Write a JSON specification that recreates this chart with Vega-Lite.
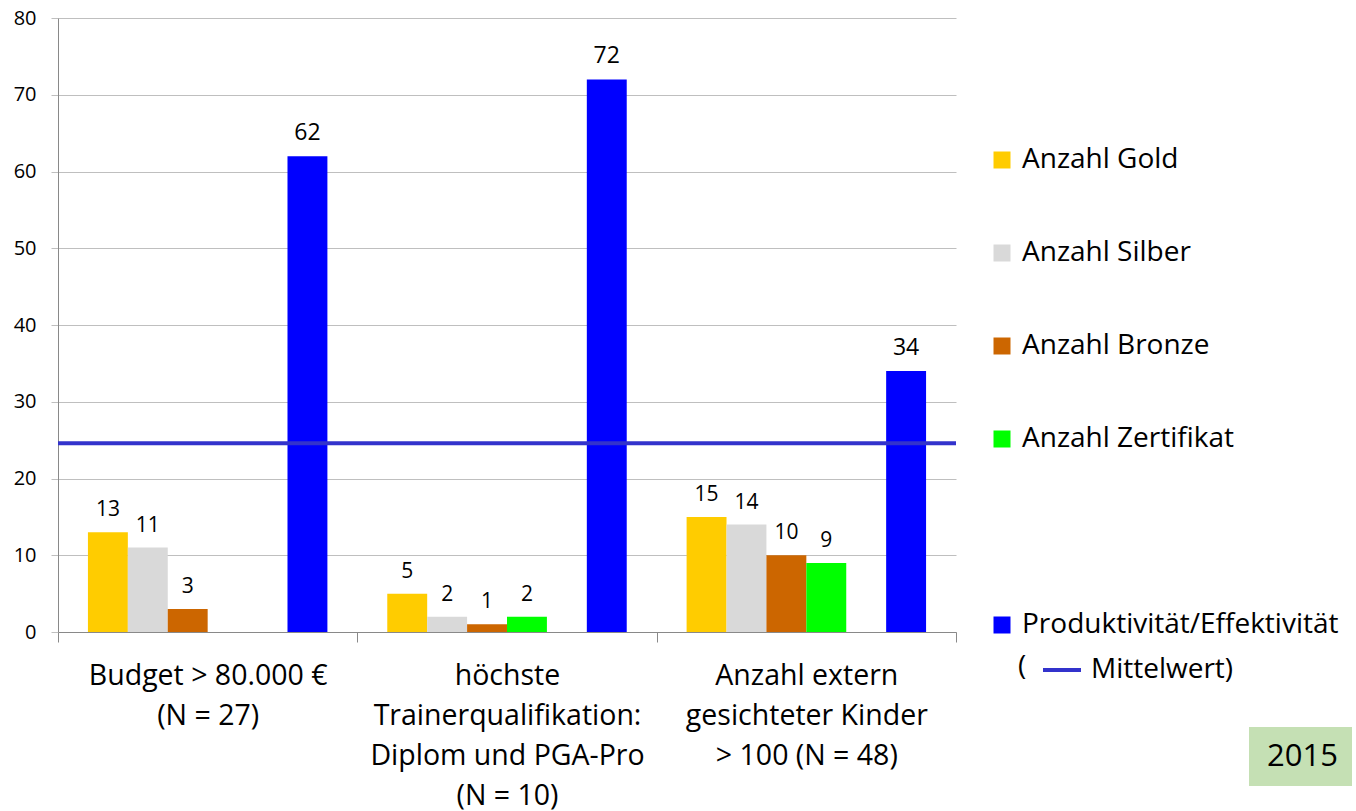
{
  "$schema": "https://vega.github.io/schema/vega-lite/v6.json",
  "width": 898,
  "height": 614,
  "autosize": {"type": "none"},
  "padding": {"left": 58, "top": 18, "right": 400, "bottom": 179},
  "background": "white",
  "config": {
    "font": "Open Sans",
    "view": {"stroke": null},
    "legend": {"labelColor": "black", "titleColor": "black"}
  },
  "layer": [
    {
      "data": {
        "values": [
          {"gruppe": "Budget > 80.000 €|(N = 27)", "serie": "Anzahl Gold", "wert": 13},
          {"gruppe": "Budget > 80.000 €|(N = 27)", "serie": "Anzahl Silber", "wert": 11},
          {"gruppe": "Budget > 80.000 €|(N = 27)", "serie": "Anzahl Bronze", "wert": 3},
          {"gruppe": "Budget > 80.000 €|(N = 27)", "serie": "Produktivität/Effektivität", "wert": 62},
          {"gruppe": "höchste|Trainerqualifikation:|Diplom und PGA-Pro|(N = 10)", "serie": "Anzahl Gold", "wert": 5},
          {"gruppe": "höchste|Trainerqualifikation:|Diplom und PGA-Pro|(N = 10)", "serie": "Anzahl Silber", "wert": 2},
          {"gruppe": "höchste|Trainerqualifikation:|Diplom und PGA-Pro|(N = 10)", "serie": "Anzahl Bronze", "wert": 1},
          {"gruppe": "höchste|Trainerqualifikation:|Diplom und PGA-Pro|(N = 10)", "serie": "Anzahl Zertifikat", "wert": 2},
          {"gruppe": "höchste|Trainerqualifikation:|Diplom und PGA-Pro|(N = 10)", "serie": "Produktivität/Effektivität", "wert": 72},
          {"gruppe": "Anzahl extern|gesichteter Kinder|> 100 (N = 48)", "serie": "Anzahl Gold", "wert": 15},
          {"gruppe": "Anzahl extern|gesichteter Kinder|> 100 (N = 48)", "serie": "Anzahl Silber", "wert": 14},
          {"gruppe": "Anzahl extern|gesichteter Kinder|> 100 (N = 48)", "serie": "Anzahl Bronze", "wert": 10},
          {"gruppe": "Anzahl extern|gesichteter Kinder|> 100 (N = 48)", "serie": "Anzahl Zertifikat", "wert": 9},
          {"gruppe": "Anzahl extern|gesichteter Kinder|> 100 (N = 48)", "serie": "Produktivität/Effektivität", "wert": 34}
        ]
      },
      "layer": [
        {
          "mark": {"type": "bar"},
          "encoding": {
            "x": {
              "field": "gruppe",
              "type": "nominal",
              "scale": {
                "domain": ["Budget > 80.000 €|(N = 27)", "höchste|Trainerqualifikation:|Diplom und PGA-Pro|(N = 10)", "Anzahl extern|gesichteter Kinder|> 100 (N = 48)"],
                "paddingInner": 0,
                "paddingOuter": 0
              },
              "axis": {
                "title": null,
                "labelAngle": 0,
                "labelExpr": "split(datum.label, '|')",
                "labelFontSize": 28.5,
                "labelLineHeight": 40,
                "labelColor": "black",
                "labelPadding": 19,
                "labelLimit": 400,
                "tickBand": "extent",
                "tickSize": 10,
                "tickColor": "#898989",
                "domainColor": "#898989",
                "grid": false
              }
            },
            "xOffset": {
              "field": "serie",
              "type": "nominal",
              "scale": {
                "domain": ["Anzahl Gold", "Anzahl Silber", "Anzahl Bronze", "Anzahl Zertifikat", " ", "Produktivität/Effektivität"],
                "paddingInner": 0,
                "paddingOuter": 0.75
              }
            },
            "y": {
              "field": "wert",
              "type": "quantitative",
              "scale": {"domain": [0, 80], "nice": false},
              "axis": {
                "title": null,
                "values": [0, 10, 20, 30, 40, 50, 60, 70, 80],
                "labelFontSize": 20,
                "labelColor": "black",
                "labelPadding": 15,
                "tickSize": 7,
                "tickColor": "#BFBFBF",
                "gridColor": "#BFBFBF",
                "domainColor": "#898989",
                "grid": true
              }
            },
            "color": {
              "field": "serie",
              "type": "nominal",
              "scale": {
                "domain": ["Anzahl Gold", "Anzahl Silber", "Anzahl Bronze", "Anzahl Zertifikat", " ", "Produktivität/Effektivität"],
                "range": ["#FFCC00", "#D9D9D9", "#CC6600", "#00FF00", "rgba(0,0,0,0)", "#0000FF"]
              },
              "legend": {
                "orient": "none",
                "legendX": 930,
                "legendY": 128,
                "title": null,
                "symbolType": "square",
                "symbolSize": 289,
                "symbolStrokeWidth": 0,
                "labelFontSize": 28,
                "labelOffset": 6,
                "labelLimit": 500,
                "rowPadding": 65
              }
            }
          }
        },
        {
          "mark": {"type": "text", "baseline": "alphabetic", "dy": -16, "color": "black"},
          "encoding": {
            "x": {"field": "gruppe", "type": "nominal"},
            "xOffset": {"field": "serie", "type": "nominal"},
            "y": {"field": "wert", "type": "quantitative"},
            "text": {"field": "wert", "type": "quantitative"},
            "size": {
              "condition": {"test": "datum.serie === 'Produktivität/Effektivität'", "value": 23},
              "value": 21
            }
          }
        }
      ]
    },
    {
      "data": {"values": [{"linie": "Mittelwert", "mittelwert": 24.6}]},
      "mark": {"type": "rule", "strokeWidth": 4},
      "encoding": {
        "y": {"field": "mittelwert", "type": "quantitative"},
        "stroke": {
          "field": "linie",
          "type": "nominal",
          "scale": {"domain": ["Mittelwert"], "range": ["#3333CC"]},
          "legend": {
            "orient": "none",
            "legendX": 960,
            "legendY": 631,
            "title": "(",
            "titleOrient": "left",
            "titleFontSize": 28,
            "titleFontWeight": "normal",
            "titlePadding": 14,
            "titleBaseline": "middle",
            "symbolType": "stroke",
            "symbolSize": 1444,
            "symbolStrokeWidth": 4,
            "labelFontSize": 28,
            "labelOffset": 8,
            "labelExpr": "datum.label + ')'"
          }
        },
        "strokeDash": {
          "datum": "2015",
          "type": "nominal",
          "scale": {"domain": ["2015"], "range": [[1, 0]]},
          "legend": {
            "orient": "none",
            "legendX": 1191,
            "legendY": 709,
            "title": null,
            "fillColor": "#C5E0B4",
            "padding": 14,
            "symbolOpacity": 0,
            "symbolStrokeWidth": 0,
            "symbolSize": 0,
            "labelOffset": -27,
            "labelFontSize": 31
          }
        }
      }
    }
  ]
}
